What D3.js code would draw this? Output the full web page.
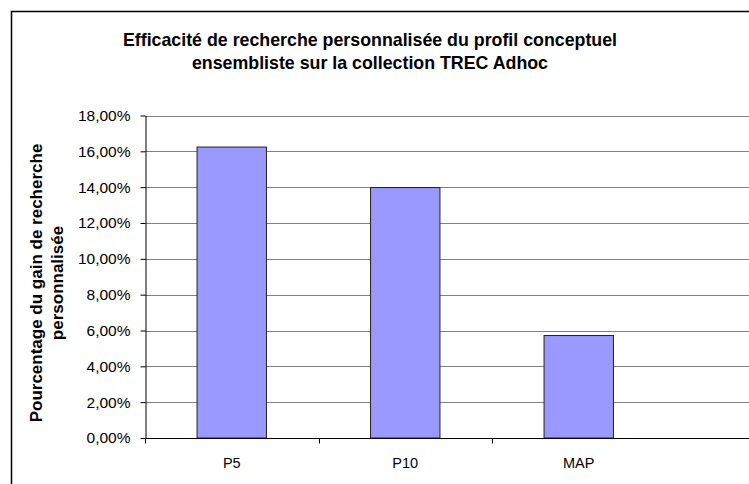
<!DOCTYPE html>
<html>
<head>
<meta charset="utf-8">
<script src="https://cdn.jsdelivr.net/npm/d3@7"></script>
<style>
  body { margin: 0; background: #fff; }
  svg { font-family: "Liberation Sans", Arial, sans-serif; display: block; }
  .yaxis text { font-size: 15.5px; fill: #000; }
</style>
</head>
<body>
<div id="chart"></div>
<script>
// data
const categories = ['P5', 'P10', 'MAP']
const gains = [0.1624, 0.1398, 0.0572]
const yTicks = [0, 0.02, 0.04, 0.06, 0.08, 0.10, 0.12, 0.14, 0.16, 0.18]
const titleLines = ['Efficacité de recherche personnalisée du profil conceptuel', 'ensembliste sur la collection TREC Adhoc']
const yLabelLines = ['Pourcentage du gain de recherche', 'personnalisée']

const width = 749
const height = 484
const plot = { left: 145, top: 115.5, bottom: 438, right: 800 }
const barColor = '#9999FF'
const gridColor = '#808080'

const svg = d3.select('#chart')
  .append('svg')
    .attr('width', width)
    .attr('height', height)

// outer frame, cut off on the right and bottom like the original
svg.append('rect')
  .attr('x', 11.5)
  .attr('y', 11.5)
  .attr('width', 800)
  .attr('height', 600)
  .style('fill', '#fff')
  .style('stroke', '#000')
  .style('stroke-width', 1.5)

const x = d3.scaleBand()
  .domain(categories)
  .range([plot.left, plot.left + 3 * 173.5])
  .padding(0)

const y = d3.scaleLinear()
  .domain([0, 0.18])
  .range([plot.bottom, plot.top])

const fmt = (d) => d3.format('.2f')(d * 100).replace('.', ',') + '%'

// gridlines
svg.append('g')
  .selectAll('line')
  .data(yTicks.filter(d => d > 0))
  .enter()
  .append('line')
    .attr('x1', plot.left)
    .attr('x2', plot.right)
    .attr('y1', d => Math.round(y(d)) + 0.5)
    .attr('y2', d => Math.round(y(d)) + 0.5)
    .style('stroke', gridColor)
    .style('stroke-width', 1.2)

// bars
const barW = x.bandwidth() * 0.4
svg.append('g')
  .selectAll('rect')
  .data(gains)
  .enter()
  .append('rect')
    .attr('x', (d, i) => x(categories[i]) + (x.bandwidth() - barW) / 2)
    .attr('y', d => y(d))
    .attr('width', barW)
    .attr('height', d => plot.bottom - y(d))
    .style('fill', barColor)
    .style('stroke', '#222')
    .style('stroke-width', 1)

// y axis
const yAxis = svg.append('g')
  .attr('class', 'yaxis')
  .attr('transform', `translate(${plot.left + 0.5},0)`)
  .call(d3.axisLeft(y).tickValues(yTicks).tickFormat(fmt).tickSize(5).tickSizeOuter(0))
yAxis.attr('font-size', 15.5).attr('font-family', '"Liberation Sans", Arial, sans-serif')
yAxis.select('.domain').style('stroke', '#000')
yAxis.selectAll('.tick line').style('stroke', '#000')
yAxis.selectAll('.tick text').attr('x', -15)

// x axis
const xAxisG = svg.append('g')
  .attr('transform', `translate(0,${plot.bottom + 0.5})`)
xAxisG.append('line')
  .attr('x1', plot.left)
  .attr('x2', plot.right)
  .style('stroke', '#000')
xAxisG.selectAll('.xtick')
  .data(categories)
  .enter()
  .append('line')
    .attr('x1', d => Math.round(x(d)) + 0.5)
    .attr('x2', d => Math.round(x(d)) + 0.5)
    .attr('y1', 0)
    .attr('y2', 5)
    .style('stroke', '#000')
xAxisG.selectAll('.xlabel')
  .data(categories)
  .enter()
  .append('text')
    .attr('x', d => x(d) + x.bandwidth() / 2)
    .attr('y', 29)
    .attr('text-anchor', 'middle')
    .style('font-size', '14.5px')
    .text(d => d)

// title
svg.append('g')
  .selectAll('text')
  .data(titleLines)
  .enter()
  .append('text')
    .attr('x', 370)
    .attr('y', (d, i) => 46 + i * 23)
    .attr('text-anchor', 'middle')
    .style('font-weight', 'bold')
    .style('font-size', '17.8px')
    .text(d => d)

// y axis label
svg.append('g')
  .attr('transform', 'translate(0,283) rotate(-90)')
  .selectAll('text')
  .data(yLabelLines)
  .enter()
  .append('text')
    .attr('x', 0)
    .attr('y', (d, i) => 42 + i * 21)
    .attr('text-anchor', 'middle')
    .style('font-weight', 'bold')
    .style('font-size', '17px')
    .text(d => d)
</script>
</body>
</html>
